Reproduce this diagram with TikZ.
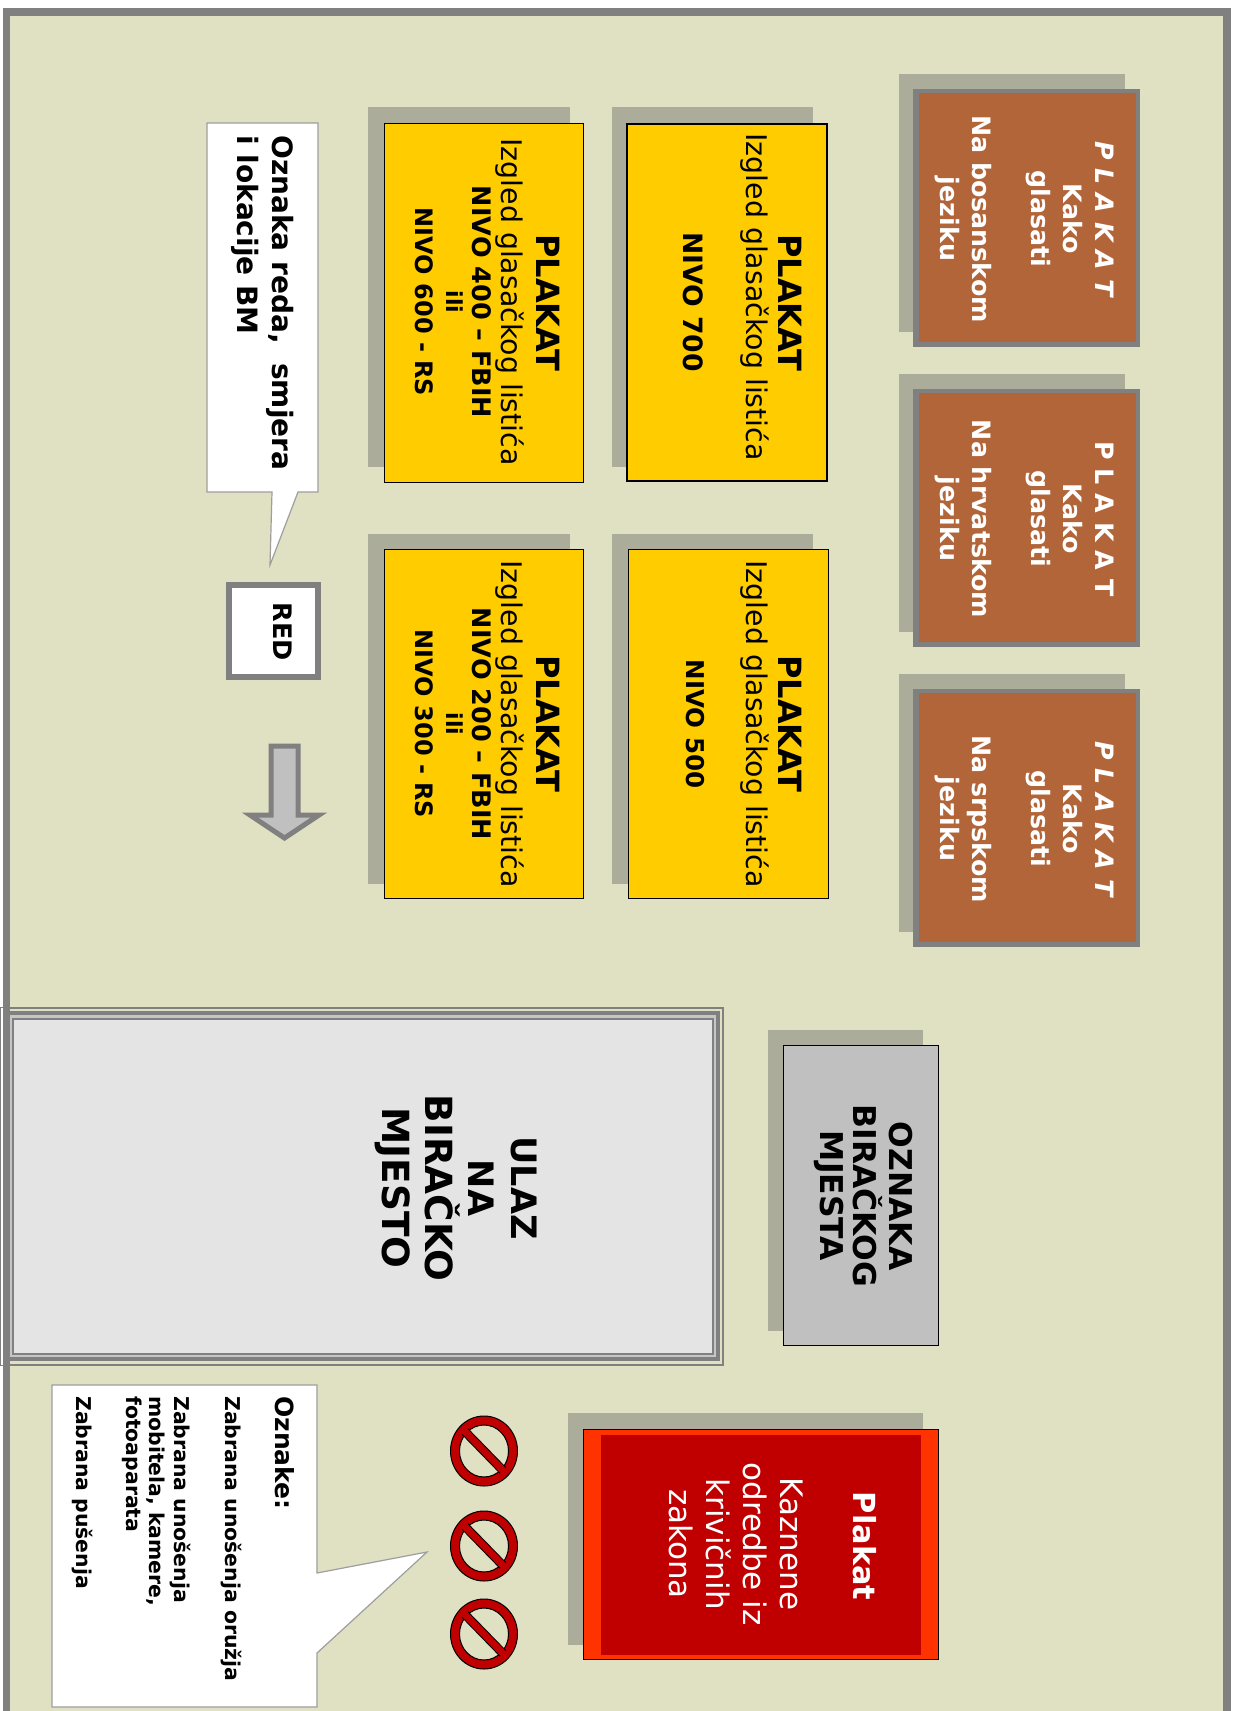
\documentclass[tikz,border=0pt]{standalone}
\usepackage{fontspec}
\setmainfont{DejaVu Sans}
\definecolor{bgc}{HTML}{E0E0C3}
\definecolor{shadowc}{HTML}{ABAC9A}
\definecolor{framec}{HTML}{808080}
\definecolor{brownc}{HTML}{B26539}
\definecolor{yellowc}{HTML}{FFCC00}
\definecolor{doorc}{HTML}{E4E4E4}
\definecolor{signc}{HTML}{C00000}
\definecolor{orangec}{HTML}{FF3300}
\definecolor{tagc}{HTML}{C0C0C0}
\tikzset{
  x=1pt,y=-1pt,
  shadowbox/.style={fill=shadowc,draw=none},
  framebox/.style={fill=framec,draw=none},
  brownbox/.style={fill=brownc,draw=none},
  yellowbox/.style={fill=yellowc,draw=black,line width=1pt},
  calloutbox/.style={fill=white,draw=black!38,line width=1.2pt,line join=miter},
  vt/.style={rotate=-90,anchor=mid,inner sep=0pt,text=black},
  vl/.style={rotate=-90,anchor=mid west,inner sep=0pt,text=black},
  whitetxt/.style={text=white},
  sz/.style={font=\fontsize{#1}{#1}\selectfont},
  szb/.style={font=\fontsize{#1}{#1}\selectfont\bfseries},
  noentry/.style={draw=black,line width=1pt,fill=signc},
}
\begin{document}
\begin{tikzpicture}
\useasboundingbox (0,0) rectangle (1233,1711);
\fill[white] (0,0) rectangle (1233,1711);
% wall
\fill[framec] (3,8) rectangle (1231,1711);
\fill[bgc] (10,16) rectangle (1223,1711);
% brown posters
\foreach \yy/\nm in {89/a,389/b,689/c}{
  \fill[shadowbox] (899,\yy-15) rectangle (1125,\yy+243);
  \fill[framebox] (913,\yy) rectangle (1140,\yy+258);
  \fill[brownbox] (919,\yy+4) rectangle (1136,\yy+253);
}
\node[vt,whitetxt,font=\fontsize{25.3}{25}\selectfont\bfseries\itshape] (pa1) at (1098,219) {P L A K A T};
\node[vt,whitetxt,szb=25.3] (pa2) at (1066,219) {Kako};
\node[vt,whitetxt,szb=25.3] (pa3) at (1034,219) {glasati};
\node[vt,whitetxt,szb=25.3] (pa4) at (975,219) {Na bosanskom};
\node[vt,whitetxt,szb=25.3] (pa5) at (943,219) {jeziku};
\node[vt,whitetxt,szb=25.3] (pb1) at (1098,519) {P L A K A T};
\node[vt,whitetxt,szb=25.3] (pb2) at (1066,519) {Kako};
\node[vt,whitetxt,szb=25.3] (pb3) at (1034,519) {glasati};
\node[vt,whitetxt,szb=25.3] (pb4) at (975,519) {Na hrvatskom};
\node[vt,whitetxt,szb=25.3] (pb5) at (943,519) {jeziku};
\node[vt,whitetxt,font=\fontsize{25.3}{25}\selectfont\bfseries\itshape] (pc1) at (1098,819) {P L A K A T};
\node[vt,whitetxt,szb=25.3] (pc2) at (1066,819) {Kako};
\node[vt,whitetxt,szb=25.3] (pc3) at (1034,819) {glasati};
\node[vt,whitetxt,szb=25.3] (pc4) at (975,819) {Na srpskom};
\node[vt,whitetxt,szb=25.3] (pc5) at (943,819) {jeziku};
% yellow posters
\fill[shadowbox] (612,107) rectangle (813,467);
\fill[shadowbox] (612,534) rectangle (813,884);
\fill[shadowbox] (368,107) rectangle (570,467);
\fill[shadowbox] (368,534) rectangle (570,884);
\draw[yellowbox,line width=2.4pt] (627,124) rectangle (827,481);
\draw[yellowbox] (628,549) rectangle (828,898);
\draw[yellowbox] (384,123) rectangle (583,482);
\draw[yellowbox] (384,549) rectangle (583,898);
\node[vt,szb=32] (y1a) at (781,303) {PLAKAT};
\node[vt,sz=28.4] (y1b) at (749,297) {Izgled glasačkog listića};
\node[vt,szb=26.6] (y1c) at (686,302) {NIVO 700};
\node[vt,szb=32] (y2a) at (781,724) {PLAKAT};
\node[vt,sz=28.4] (y2b) at (749,724) {Izgled glasačkog listića};
\node[vt,szb=24.5] (y2c) at (689,724) {NIVO 500};
\node[vt,szb=32] (y3a) at (539,303) {PLAKAT};
\node[vt,sz=28.4] (y3b) at (504,302) {Izgled glasačkog listića};
\node[vt,szb=25.5] (y3c) at (475,302) {NIVO 400 – FBIH};
\node[vt,szb=22] (y3d) at (449,302) {ili};
\node[vt,szb=24] (y3e) at (418,302) {NIVO 600 - RS};
\node[vt,szb=32] (y4a) at (539,724) {PLAKAT};
\node[vt,sz=28.4] (y4b) at (504,724) {Izgled glasačkog listića};
\node[vt,szb=25.5] (y4c) at (475,724) {NIVO 200 – FBIH};
\node[vt,szb=22] (y4d) at (449,724) {ili};
\node[vt,szb=24] (y4e) at (418,724) {NIVO 300 - RS};
% row callout
\draw[calloutbox] (207,123) -- (318,123) -- (318,492) -- (298,492) -- (270,565) -- (272,492) -- (207,492) -- cycle;
\node[vl,szb=28] (c1a) at (275,135) {Oznaka reda,\ \ smjera};
\node[vl,szb=28] (c1b) at (240,135) {i lokacije BM};
% RED box
\fill[framebox] (226,582) rectangle (321,680);
\fill[white] (232,588) rectangle (315,674);
\node[vt,szb=25.5] (red) at (276,632) {RED};
% arrow
\draw[fill=tagc,draw=framec,line width=5pt,line join=miter,miter limit=10] (271,746) -- (298,746) -- (298,815) -- (319,815) -- (284.5,838) -- (250,815) -- (271,815) -- cycle;
% entrance
\fill[framec] (0,1007) rectangle (724,1366);
\fill[bgc] (2,1009) rectangle (722,1364);
\fill[white] (1,1008) rectangle (2.5,1365);
\fill[framec] (3,1007) rectangle (10,1366);
\fill[framec] (10,1011) rectangle (720,1361);
\fill[doorc!70!framec] (10,1015) rectangle (716,1357);
\fill[framec] (12,1018) rectangle (714,1355);
\fill[doorc] (14,1020) rectangle (712,1353);
\node[vt,szb=35] (e1) at (514,1188) {ULAZ};
\node[vt,szb=35] (e2) at (471,1188) {NA};
\node[vt,szb=37.4] (e3) at (428,1188) {BIRAČKO};
\node[vt,szb=37.4] (e4) at (385,1188) {MJESTO};
% station sign
\fill[shadowbox] (768,1030) rectangle (923,1331);
\draw[fill=tagc,draw=black,line width=1pt] (783,1045) rectangle (938,1345);
\node[vt,szb=31.4] (t1) at (892,1196) {OZNAKA};
\node[vt,szb=31.4] (t2) at (856,1196) {BIRAČKOG};
\node[vt,szb=31.4] (t3) at (823,1196) {MJESTA};
% red poster
\fill[shadowbox] (568,1413) rectangle (923,1645);
\draw[fill=orangec,draw=black,line width=1pt] (583,1429) rectangle (938,1659);
\fill[signc] (601,1435) rectangle (921,1655);
\node[vt,whitetxt,szb=30.4] (r1) at (856,1546) {Plakat};
\node[vt,whitetxt,sz=31] (r2) at (783,1544) {Kaznene};
\node[vt,whitetxt,sz=31] (r3) at (746,1544) {odredbe iz};
\node[vt,whitetxt,sz=31] (r4) at (709,1544) {krivičnih};
\node[vt,whitetxt,sz=31] (r5) at (672,1544) {zakona};
% signs
\foreach \yy in {1451,1546,1634}{
  \begin{scope}[shift={(484,\yy)}]
  \filldraw[noentry,even odd rule] (0,0) ellipse [x radius=33.5,y radius=35] (0,0) ellipse [x radius=24.5,y radius=26];
  \draw[black,line width=9pt,line cap=butt] (-19,-19.5) -- (19,19.5);
  \draw[signc,line width=7pt,line cap=butt] (-21,-21.5) -- (21,21.5);
  \end{scope}
}
% legend callout
\draw[calloutbox] (52,1385) -- (317,1385) -- (317,1573) -- (427,1552) -- (317,1653) -- (317,1707) -- (52,1707) -- cycle;
\node[vl,szb=25] (l1) at (278,1396) {Oznake:};
\node[vl,szb=20.4] (l2) at (228,1396) {Zabrana unošenja oružja};
\node[vl,szb=20.4] (l3) at (177,1396) {Zabrana unošenja};
\node[vl,szb=20.4] (l4) at (152,1396) {mobitela, kamere,};
\node[vl,szb=20.4] (l5) at (129,1396) {fotoaparata};
\node[vl,szb=20.4] (l6) at (79,1396) {Zabrana pušenja};
\end{tikzpicture}
\end{document}
